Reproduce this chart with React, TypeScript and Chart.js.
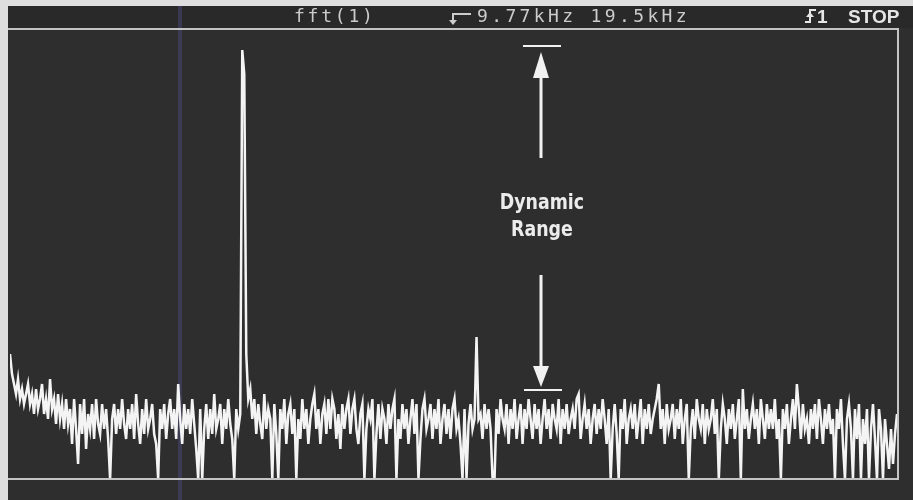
import React, { useEffect, useRef } from "react";
import { Chart, registerables } from "chart.js";

Chart.register(...registerables);

// ---- header texts ----
const headerTrace = "fft(1)";
const headerFreqs = "9.77kHz 19.5kHz";
const headerTrigger = "1";
const headerStatus = "STOP";
const annotationLines = ["Dynamic", "Range"];

// ---- spectrum magnitude (arbitrary dB-like units, 0 = screen bottom, 90 = screen top) ----
const spectrumLow = [
  25, 21, 19, 17, 20, 16, 18, 15, 17, 19,
  15, 17, 13, 18, 14, 16, 19, 13, 16, 12,
  20, 14, 16, 11, 17, 12, 15, 10, 16, 11,
  14, 7, 16, 10, 3, 15, 9, 16, 6, 13,
  10, 15, 8, 16, 11, 9, 15, 10, 14, 8,
  0, 12, 15, 9, 14, 10, 16, 11, 8, 14,
  10, 15, 8, 17, 11, 7, 14, 9, 16, 10,
  12, 15, 9, 7, 0, 14, 10, 15, 8, 13,
  16, 10, 14, 8, 19, 12, 7, 15, 10, 14,
  9, 16, 11, 6, 0, 14, 0, 10, 15, 8,
  14, 9, 17, 10, 12, 15, 7, 14, 10, 16,
  11, 8, 0, 14, 10, 13, 85.8, 81, 25, 16,
];
const spectrumMid = [
  18, 12, 16, 9, 15, 11, 8, 17, 10, 14,
  12, 0, 15, 9, 0, 14, 10, 16, 7, 13,
  15, 9, 14, 0, 12, 8, 16, 10, 14, 7,
  12, 15, 17, 10, 14, 7, 13, 15, 9, 16,
  10, 16, 14, 8, 13, 6, 15, 10, 14, 16,
  9, 14, 16, 10, 7, 13, 15, 0, 10, 14,
  12, 16, 0, 9, 15, 8, 14, 12, 7, 15,
  10, 14, 16, 0, 12, 8, 15, 10, 14, 7,
  12, 16, 9, 15, 0, 8, 14, 16, 10, 12,
  15, 8, 14, 10, 16, 7, 12, 15, 9, 14,
  8, 14, 16, 10, 12, 7, 0, 14, 0, 11,
  15, 10, 12, 28.4, 12, 13, 8, 15, 10, 14,
];
const spectrumHigh = [
  10, 0, 0, 14, 9, 16, 12, 10, 15, 7,
  14, 10, 16, 8, 12, 15, 7, 14, 10, 16,
  12, 8, 15, 10, 14, 7, 12, 16, 10, 14,
  8, 15, 12, 10, 16, 7, 14, 10, 15, 9,
  12, 14, 10, 16, 17, 8, 12, 15, 10, 14,
  7, 12, 15, 9, 14, 10, 16, 12, 7, 14,
  0, 10, 15, 9, 0, 14, 10, 16, 7, 12,
  14, 10, 15, 8, 12, 16, 7, 14, 10, 15,
  9, 12, 14, 16, 19, 10, 14, 7, 15, 10,
  12, 15, 8, 14, 10, 16, 7, 12, 15, 0,
  10, 14, 8, 16, 12, 10, 15, 7, 14, 10,
  12, 16, 9, 14, 0, 10, 15, 12, 7, 14,
];
const spectrumTop = [
  10, 15, 8, 12, 16, 0, 18, 10, 14, 8,
  12, 15, 10, 14, 7, 16, 12, 8, 15, 10,
  14, 10, 16, 8, 12, 0, 14, 10, 15, 7,
  12, 16, 10, 19, 14, 8, 15, 10, 12, 7,
  14, 10, 15, 8, 16, 12, 7, 14, 10, 15,
  9, 12, 0, 14, 10, 16, 7, 0, 12, 15,
  10, 0, 14, 8, 15, 0, 12, 7, 14, 0,
  10, 15, 8, 0, 14, 10, 0, 12, 7, 2,
  10, 3, 9, 13,
];
const spectrum = [...spectrumLow, ...spectrumMid, ...spectrumHigh, ...spectrumTop];
const binIndex = spectrum.map((_, i) => i);

// ---- dynamic range annotation (data units) ----
const rangeMarkerBin = 265;
const rangeTopLevel = 86.6;
const rangeFloorLevel = 17.8;

const Y_MIN = 0;
const Y_MAX = 90;

function drawMonoText(ctx: CanvasRenderingContext2D, text: string, x: number, y: number, pitch: number) {
  for (let i = 0; i < text.length; i++) {
    ctx.fillText(text[i], x + i * pitch, y);
  }
}

const scopePlugin = {
  id: "scope",
  beforeDraw(chart: any) {
    const { ctx, width, height } = chart;
    ctx.save();
    ctx.fillStyle = "#dedede";
    ctx.fillRect(0, 0, width, height);
    ctx.fillStyle = "#2e2e2e";
    ctx.fillRect(8, 6, width - 8, height - 6);
    ctx.fillStyle = "#292929";
    ctx.fillRect(8, 6, width - 8, 22);
    // faint scan stripe
    ctx.fillStyle = "rgba(80,80,140,0.4)";
    ctx.fillRect(178, 6, 4, height - 6);
    ctx.restore();
  },
  afterDatasetsDraw(chart: any) {
    const { ctx, chartArea, scales } = chart;
    const xs = scales.x;
    const ys = scales.y;
    ctx.save();
    // frame
    ctx.strokeStyle = "#c4c4c4";
    ctx.lineWidth = 2;
    ctx.beginPath();
    ctx.moveTo(8, chartArea.top);
    ctx.lineTo(chartArea.right + 1, chartArea.top);
    ctx.lineTo(chartArea.right + 1, chartArea.bottom);
    ctx.lineTo(8, chartArea.bottom);
    ctx.stroke();

    // header
    ctx.fillStyle = "#cccccc";
    ctx.font = "18px 'DejaVu Sans Mono'";
    ctx.textBaseline = "alphabetic";
    ctx.textAlign = "left";
    drawMonoText(ctx, headerTrace, 294, 22, 13.6);
    drawMonoText(ctx, headerFreqs, 477, 22, 14.2);
    // trigger marker symbol
    ctx.strokeStyle = "#cccccc";
    ctx.lineWidth = 2;
    ctx.beginPath();
    ctx.moveTo(471, 14);
    ctx.lineTo(453, 14);
    ctx.lineTo(453, 21);
    ctx.stroke();
    ctx.beginPath();
    ctx.moveTo(449, 20);
    ctx.lineTo(457, 20);
    ctx.lineTo(453, 25);
    ctx.closePath();
    ctx.fill();

    // rising edge symbol
    ctx.strokeStyle = "#e6e6e6";
    ctx.fillStyle = "#e6e6e6";
    ctx.beginPath();
    ctx.moveTo(805, 22);
    ctx.lineTo(810, 22);
    ctx.lineTo(810, 10);
    ctx.lineTo(816, 10);
    ctx.stroke();
    ctx.beginPath();
    ctx.moveTo(806, 17);
    ctx.lineTo(814, 17);
    ctx.lineTo(810, 12);
    ctx.closePath();
    ctx.fill();
    ctx.font = "bold 19px 'Liberation Sans', Arial, sans-serif";
    ctx.fillText(headerTrigger, 817, 23);
    ctx.fillText(headerStatus, 848, 23);

    // dynamic range annotation
    const ax = Math.round(xs.getPixelForValue(rangeMarkerBin));
    const yTop = ys.getPixelForValue(rangeTopLevel);
    const yBot = ys.getPixelForValue(rangeFloorLevel);
    ctx.strokeStyle = "#f2f2f2";
    ctx.fillStyle = "#f2f2f2";
    ctx.lineWidth = 2;
    ctx.beginPath();
    ctx.moveTo(ax - 18, yTop);
    ctx.lineTo(ax + 20, yTop);
    ctx.moveTo(ax - 17, yBot);
    ctx.lineTo(ax + 21, yBot);
    ctx.stroke();
    ctx.lineWidth = 3;
    ctx.beginPath();
    ctx.moveTo(ax, yTop + 30);
    ctx.lineTo(ax, yTop + 112);
    ctx.moveTo(ax, yBot - 115);
    ctx.lineTo(ax, yBot - 20);
    ctx.stroke();
    ctx.beginPath();
    ctx.moveTo(ax, yTop + 6);
    ctx.lineTo(ax - 8, yTop + 32);
    ctx.lineTo(ax + 8, yTop + 32);
    ctx.closePath();
    ctx.fill();
    ctx.beginPath();
    ctx.moveTo(ax, yBot - 3);
    ctx.lineTo(ax - 8, yBot - 24);
    ctx.lineTo(ax + 8, yBot - 24);
    ctx.closePath();
    ctx.fill();

    const mid = (yTop + yBot) / 2;
    ctx.font = "bold 21px 'Liberation Sans Narrow', 'DejaVu Sans Condensed', sans-serif";
    ctx.textAlign = "center";
    ctx.fillStyle = "#ececec";
    ctx.translate(ax, 0);
    ctx.scale(0.92, 1);
    ctx.fillText(annotationLines[0], 1, mid - 9);
    ctx.fillText(annotationLines[1], 1, mid + 18);
    ctx.restore();
  },
};

export default function App() {
  const canvasRef = useRef<HTMLCanvasElement | null>(null);

  useEffect(() => {
    if (!canvasRef.current) return;
    const chart = new Chart(canvasRef.current, {
      type: "line",
      data: {
        labels: binIndex,
        datasets: [
          {
            label: "fft(1)",
            data: binIndex.map((i) => ({ x: i, y: spectrum[i] })),
            borderColor: "#f4f4f4",
            borderWidth: 2.5,
            pointRadius: 0,
            tension: 0,
            fill: false,
          },
        ],
      },
      options: {
        responsive: false,
        animation: false,
        devicePixelRatio: 1,
        layout: { padding: { left: 10, right: 16, top: 29, bottom: 21 } },
        plugins: { legend: { display: false }, tooltip: { enabled: false } },
        scales: {
          x: { type: "linear", display: false, min: 0, max: spectrum.length - 1 },
          y: { type: "linear", display: false, min: Y_MIN, max: Y_MAX },
        },
      },
      plugins: [scopePlugin],
    });
    return () => chart.destroy();
  }, []);

  return (
    <div style={{ position: "fixed", left: 0, top: 0, width: 913, height: 500 }}>
      <canvas ref={canvasRef} width={913} height={500} style={{ display: "block", width: 913, height: 500 }} />
    </div>
  );
}
